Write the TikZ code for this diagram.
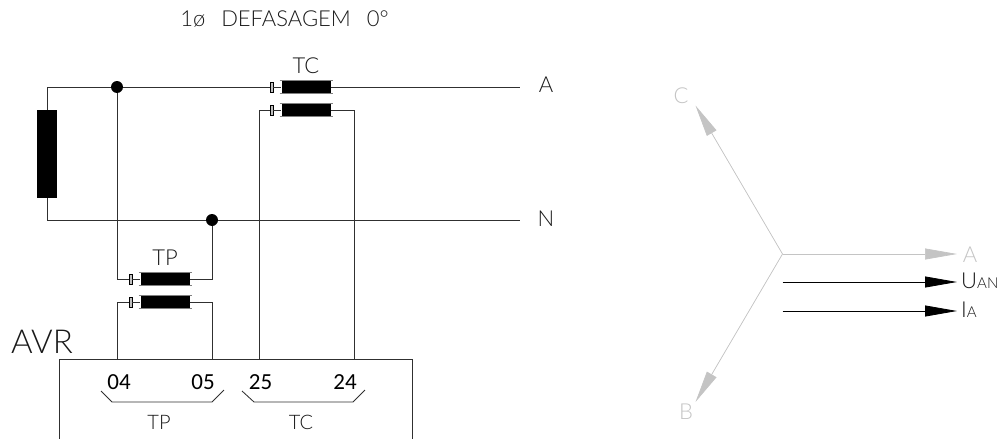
\documentclass[tikz,border=0pt]{standalone}
\usepackage{fontspec}
\setmainfont{Lato}[UprightFont=* Light]
\newfontfamily\numfont{Carlito}
\usetikzlibrary{arrows.meta, positioning}
\definecolor{wire}{HTML}{303030}
\definecolor{fase}{HTML}{C4C4C4}
\tikzset{
  wireL/.style={line width=0.85pt, draw=wire},
  coil/.style={rectangle, fill=black, draw=none, minimum width=49pt,
               minimum height=13pt, inner sep=0pt},
  tab/.style={rectangle, fill=black!25, draw=black, line width=0.5pt,
              minimum width=3pt, minimum height=10pt, inner sep=0pt},
  dotN/.style={circle, fill=black, minimum size=12pt, inner sep=0pt},
  label/.style={font=\fontsize{22}{22}\selectfont, text=black!90, inner sep=0pt},
  term/.style={font=\numfont\fontsize{23}{23}\selectfont, inner sep=0pt},
  vecG/.style={-{Triangle[length=32pt, width=11pt]}, line width=0.7pt, draw=fase, fill=fase},
  vecK/.style={-{Triangle[length=32pt, width=11pt]}, line width=0.8pt, draw=black},
  faseT/.style={label, text=fase},
}
\begin{document}
\begin{tikzpicture}[x=1pt, y=-1pt]
  \useasboundingbox (0,0) rectangle (1002,439);

  %% Title
  \node[label] (title) at (284.5,19) {1ø\hspace{16pt}DEFASAGEM\hspace{16pt}0°};

  %% Load and junctions
  \node[rectangle, fill=black, minimum width=20pt, minimum height=88pt, inner sep=0pt] (load) at (47,154) {};
  \node[dotN] (dotA) at (117,87) {};
  \node[dotN] (dotN) at (212,220) {};
  \coordinate (endA) at (520,87);
  \coordinate (endN) at (520,220);
  \coordinate (loadT) at (47,87);
  \coordinate (loadB) at (47,220);

  %% Transformers
  \foreach \nm/\x/\y in {tcP/306/87, tcS/306/110, tpP/165/279, tpS/165/302}{
    \node[coil] (\nm) at (\x,\y) {};
    \node[tab] (\nm T) at (\x-34.5,\y) {};
    \draw[black!50, line width=0.5pt] (\x-26.5,\y-6.5) -- (\x+26.5,\y-6.5)
      (\x-26.5,\y+6.5) -- (\x+26.5,\y+6.5);
  }
  \node[label] (tcL) at (306,66) {TC};
  \node[label] (tpL) at (165,258) {TP};

  %% Relay
  \draw[wireL] (59,439) -- (59,359) -- (412,359) -- (412,439);
  \node[label, font=\fontsize{33}{33}\selectfont] (avr) at (42,342) {AVR};
  \coordinate (p04) at (117,359);
  \coordinate (p05) at (212,359);
  \coordinate (p25) at (259,359);
  \coordinate (p24) at (354,359);
  \node[term] (t04) at (119,382) {04};
  \node[term] (t05) at (203,382) {05};
  \node[term] (t25) at (260.5,382) {25};
  \node[term] (t24) at (345,382) {24};
  \draw[wireL] (101,391) -- (112,402) -- (212,402) -- (224,390);
  \draw[wireL] (242,391) -- (254,402) -- (353,402) -- (365,390);
  \node[label, font=\fontsize{20}{20}\selectfont] (tpB) at (159,422) {TP};
  \node[label, font=\fontsize{20}{20}\selectfont] (tcB) at (301,422) {TC};

  %% Wires
  \draw[wireL] (load.north) -- (loadT) -- (dotA) -- (tcPT);
  \draw[wireL] (tcPT) -- (tcP);
  \draw[wireL] (tcP) -- (endA);
  \draw[wireL] (load.south) -- (loadB) -- (dotN) -- (endN);
  \draw[wireL] (dotA) |- (tpPT);
  \draw[wireL] (tpPT) -- (tpP);
  \draw[wireL] (tpP) -| (dotN);
  \draw[wireL] (p04) |- (tpST);
  \draw[wireL] (tpST) -- (tpS);
  \draw[wireL] (tpS) -| (p05);
  \draw[wireL] (p25) |- (tcST);
  \draw[wireL] (tcST) -- (tcS);
  \draw[wireL] (tcS) -| (p24);
  \node[label] (lblA) at (546,85) {A};
  \node[label] (lblN) at (546,219) {N};

  %% Phasors
  \coordinate (orig) at (782.5,254);
  \coordinate (tipA) at (957,254);
  \coordinate (tipB) at (695.5,402);
  \coordinate (tipC) at (695.5,105.5);
  \coordinate (uFrom) at (782.5,282);
  \coordinate (uTip) at (957,282);
  \coordinate (iFrom) at (782.5,311);
  \coordinate (iTip) at (957,311);
  \draw[vecG] (orig) -- (tipA);
  \draw[vecG] (orig) -- (tipB);
  \draw[vecG] (orig) -- (tipC);
  \draw[vecK] (uFrom) -- (uTip);
  \draw[vecK] (iFrom) -- (iTip);
  \node[faseT] (faseA) at (970,255) {A};
  \node[faseT] (faseB) at (686,412) {B};
  \node[faseT] (faseC) at (681,96) {C};
  \node[label, anchor=base west] (uan) at (961,288) {U{\fontsize{15}{15}\selectfont AN}};
  \node[label, anchor=base west] (ia) at (961,317) {I{\fontsize{15}{15}\selectfont A}};
\end{tikzpicture}
\end{document}
